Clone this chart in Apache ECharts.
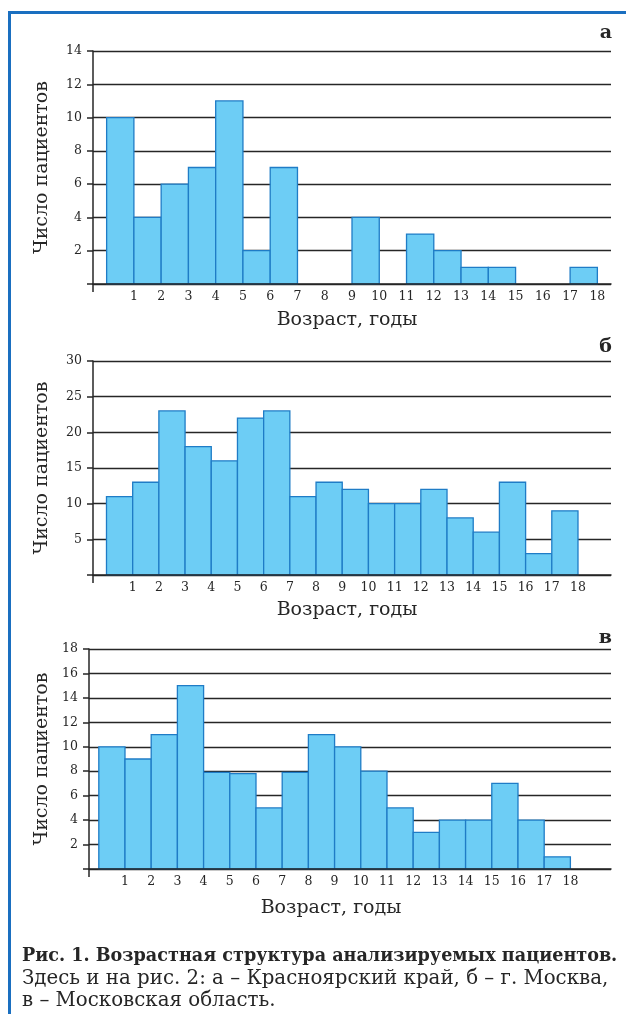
<!DOCTYPE html>
<html>
<head>
<meta charset="utf-8">
<script src="https://cdn.jsdelivr.net/npm/echarts@6/dist/echarts.min.js"></script>
<style>
html,body{margin:0;padding:0;background:#fff;}
#chart{width:626px;height:1014px;}
</style>
</head>
<body>
<div id="chart"></div>
<script>
// ---- data ----
const ageTicks = [1,2,3,4,5,6,7,8,9,10,11,12,13,14,15,16,17,18];
const krasnoyarsk = [10,4,6,7,11,2,7,0,0,4,0,3,2,1,1,0,0,1];
const moscow = [11,13,23,18,16,22,23,11,13,12,10,10,12,8,6,13,3,9];
const moscowRegion = [10,9,11,15,7.9,7.8,5,7.9,11,10,8,5,3,4,4,7,4,1];
const panelLetters = ['а','б','в'];
const yMax = [14,30,18];
const yStep = [2,5,2];
const yName = 'Число пациентов';
const xName = 'Возраст, годы';
const captionBold = 'Рис. 1. Возрастная структура анализируемых пациентов.';
const captionLine2 = 'Здесь и на рис. 2: а – Красноярский край, б – г. Москва,';
const captionLine3 = 'в – Московская область.';

// ---- layout ----
const FONT = 'DejaVu Serif';
const INK = '#262626';
const grids = [
  {left:93, top:51, width:518, height:233},
  {left:93, top:361, width:518, height:214},
  {left:89, top:649, width:522, height:220}
];
const xRange = [[-0.5,18.5],[-0.515,19.26],[-0.374,19.55]];
const xNamePad = [[0,10,0,0],[0,10,0,0],[0,38,0,0]];
const xNameGap = [27,26,30];
const yNameGap = [41,41,37];
const letterTop = [24,338,629];
const series = [krasnoyarsk, moscow, moscowRegion];

const chart = echarts.init(document.getElementById('chart'), null, {renderer:'canvas'});

const xAxes = [], yAxes = [], seriesOpts = [], titles = [];
series.forEach((arr, k) => {
  xAxes.push({
    gridIndex:k, type:'value', min:xRange[k][0], max:xRange[k][1], z:5,
    name:xName, nameLocation:'middle', nameGap:xNameGap[k],
    nameTextStyle:{fontFamily:FONT, fontSize:19, color:INK, padding:xNamePad[k]},
    axisLine:{show:true, onZero:false, lineStyle:{color:INK, width:1.5}},
    axisTick:{show:true, length:8, customValues:[xRange[k][0]], lineStyle:{color:INK, width:1.5}},
    axisLabel:{customValues:ageTicks, fontFamily:FONT, fontSize:12.5, color:INK, margin:6},
    splitLine:{show:false}
  });
  yAxes.push({
    gridIndex:k, type:'value', min:0, max:yMax[k], interval:yStep[k],
    name:yName, nameLocation:'middle', nameGap:yNameGap[k], nameRotate:90,
    nameTextStyle:{fontFamily:FONT, fontSize:19, color:INK},
    axisLine:{show:true, onZero:false, lineStyle:{color:INK, width:1.5}},
    axisTick:{show:true, length:6, lineStyle:{color:INK, width:1.5}},
    axisLabel:{fontFamily:FONT, fontSize:12.5, color:INK, margin:11,
      formatter: v => v === 0 ? '' : String(v)},
    splitLine:{show:true, lineStyle:{color:INK, width:1.4}}
  });
  seriesOpts.push({
    type:'custom', xAxisIndex:k, yAxisIndex:k, z:3,
    data: arr.map((v,i) => [i, v]),
    encode:{x:0, y:1},
    renderItem:(params, api) => {
      const i = api.value(0), v = api.value(1);
      if (!v) return null;
      const p0 = api.coord([i, 0]);
      const p1 = api.coord([i + 1, v]);
      return {
        type:'rect',
        shape:{x:p0[0], y:p1[1], width:p1[0]-p0[0], height:p0[1]-p1[1]},
        style:{fill:'#6dcdf5', stroke:'#1f7cc6', lineWidth:1.3}
      };
    }
  });
  titles.push({
    text:panelLetters[k], right:14, top:letterTop[k], padding:0,
    textStyle:{fontFamily:FONT, fontSize:19, fontWeight:'bold', color:INK}
  });
});

titles.push({text:captionBold, left:22, top:947, padding:0,
  textStyle:{fontFamily:FONT, fontSize:17.6, fontWeight:'bold', color:INK}});
titles.push({text:captionLine2, left:22, top:969, padding:0,
  textStyle:{fontFamily:FONT, fontSize:19.8, fontWeight:'normal', color:INK}});
titles.push({text:captionLine3, left:22, top:991, padding:0,
  textStyle:{fontFamily:FONT, fontSize:19.8, fontWeight:'normal', color:INK}});

chart.setOption({
  animation:false,
  backgroundColor:'#fff',
  title:titles,
  grid:grids,
  xAxis:xAxes,
  yAxis:yAxes,
  series:seriesOpts,
  graphic:[{
    type:'polyline', silent:true,
    shape:{points:[[9.5,1014],[9.5,12.5],[626,12.5]]},
    style:{stroke:'#1a6fc0', lineWidth:3, fill:null}
  }]
});
</script>
</body>
</html>
